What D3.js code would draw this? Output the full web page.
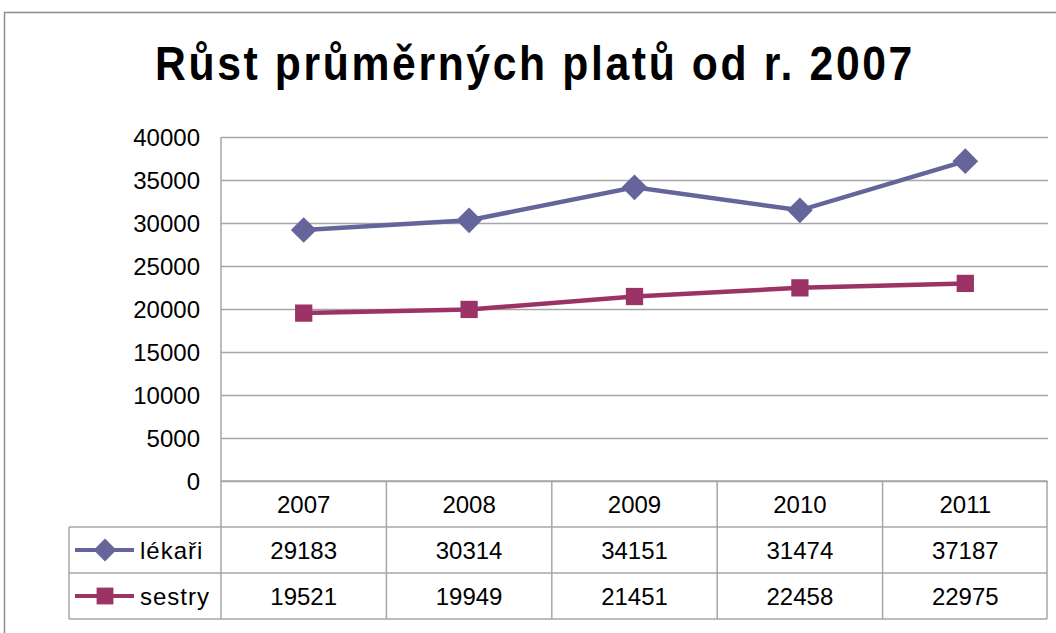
<!DOCTYPE html>
<html>
<head>
<meta charset="utf-8">
<script src="https://cdn.jsdelivr.net/npm/d3@7"></script>
<style>
  body { margin: 0; background: #fff; }
  svg { display: block; }
  text { font-family: "Liberation Sans", Arial, sans-serif; fill: #000; }
</style>
</head>
<body>
<div id="chart"></div>
<script>
// chart data
var years = ["2007", "2008", "2009", "2010", "2011"];
var lekari = [29183, 30314, 34151, 31474, 37187];
var sestry = [19521, 19949, 21451, 22458, 22975];
var seriesNames = ["lékaři", "sestry"];
var yTicks = [0, 5000, 10000, 15000, 20000, 25000, 30000, 35000, 40000];

var svgWidth = 1056;
var svgHeight = 633;

// plot area edges
var plot = { left: 221, right: 1048, top: 137, bottom: 481 };
var rowH = 46;

var svg = d3.select("#chart")
    .append("svg")
    .attr("width", svgWidth)
    .attr("height", svgHeight);

// outer chart border
svg.append("path")
    .attr("d", "M4.5,633 V12.5 H1056")
    .attr("fill", "none")
    .attr("stroke", "#8c8c8c")
    .attr("stroke-width", 1.5);

// title (squeezed to the narrow look of the original)
svg.append("text")
    .attr("x", 155)
    .attr("y", 80)
    .attr("textLength", 760)
    .attr("lengthAdjust", "spacingAndGlyphs")
    .style("font-weight", "bold")
    .style("font-size", "49px")
    .style("letter-spacing", "3px")
    .text("Růst průměrných platů od r. 2007");

var xScale = d3.scaleBand()
    .domain(years)
    .range([plot.left, plot.right]);

var yScale = d3.scaleLinear()
    .domain([0, 40000])
    .range([plot.bottom, plot.top]);

// gridlines
var grid = svg.append("g")
    .attr("transform", `translate(${plot.left}, 0)`)
    .call(d3.axisLeft(yScale).tickValues(yTicks).tickSize(-(plot.right - plot.left)).tickFormat(""));
grid.select(".domain").remove();
grid.selectAll("line").attr("stroke", "#a6a6a6").attr("stroke-width", 1.3);

// y labels
var yAxis = svg.append("g")
    .attr("transform", `translate(${plot.left - 21}, 0)`)
    .call(d3.axisLeft(yScale).tickValues(yTicks).tickSize(0).tickPadding(0).tickFormat(d3.format("d")));
yAxis.select(".domain").remove();
yAxis.selectAll("text")
    .style("font-size", "24px")
    .attr("dy", "0.36em");

// table
var tableBottom = plot.bottom + rowH * 3;
var table = svg.append("g");
var tableStroke = "#a6a6a6";

// vertical line from the plot top down through the table
table.append("line")
    .attr("x1", plot.left).attr("x2", plot.left)
    .attr("y1", plot.top).attr("y2", tableBottom)
    .attr("stroke", tableStroke).attr("stroke-width", 1.5);

// column separators
table.selectAll(".sep")
    .data(years.slice(1).concat(["end"]))
    .enter()
    .append("line")
    .attr("x1", (d, i) => i < years.length - 1 ? xScale(d) : plot.right - 1)
    .attr("x2", (d, i) => i < years.length - 1 ? xScale(d) : plot.right - 1)
    .attr("y1", plot.bottom)
    .attr("y2", tableBottom)
    .attr("stroke", tableStroke).attr("stroke-width", 1.5);

// horizontal lines
var hLines = [
    { y: plot.bottom, x1: plot.left },
    { y: plot.bottom + rowH, x1: 69 },
    { y: plot.bottom + rowH * 2, x1: 69 },
    { y: tableBottom, x1: 69 }
];
table.selectAll(".hl")
    .data(hLines)
    .enter()
    .append("line")
    .attr("x1", d => d.x1).attr("x2", plot.right - 1)
    .attr("y1", d => d.y).attr("y2", d => d.y)
    .attr("stroke", tableStroke).attr("stroke-width", 1.5);

table.append("line")
    .attr("x1", 69).attr("x2", 69)
    .attr("y1", plot.bottom + rowH).attr("y2", tableBottom)
    .attr("stroke", tableStroke).attr("stroke-width", 1.5);

// header years
table.selectAll(".yr")
    .data(years)
    .enter()
    .append("text")
    .attr("x", d => xScale(d) + xScale.bandwidth() / 2)
    .attr("y", plot.bottom + rowH / 2)
    .attr("dy", "0.36em")
    .attr("text-anchor", "middle")
    .style("font-size", "24px")
    .text(d => d);

var series = [
    { name: seriesNames[0], values: lekari, color: "#65659b", shape: d3.symbolDiamond2 },
    { name: seriesNames[1], values: sestry, color: "#9b3366", shape: d3.symbolSquare2 }
];

series.forEach(function(s, si) {
    var rowY = plot.bottom + rowH * (si + 1) + rowH / 2;

    // values in the table
    table.selectAll(".v" + si)
        .data(s.values)
        .enter()
        .append("text")
        .attr("x", (d, i) => xScale(years[i]) + xScale.bandwidth() / 2)
        .attr("y", rowY)
        .attr("dy", "0.36em")
        .attr("text-anchor", "middle")
        .style("font-size", "24px")
        .text(d => d);

    // legend key
    table.append("line")
        .attr("x1", 75).attr("x2", 134)
        .attr("y1", rowY).attr("y2", rowY)
        .attr("stroke", s.color).attr("stroke-width", 4);
    table.append("path")
        .attr("d", d3.symbol().type(s.shape).size(si == 0 ? 330 : 360)())
        .attr("transform", `translate(105, ${rowY})`)
        .attr("fill", s.color);
    table.append("text")
        .attr("x", 140)
        .attr("y", rowY)
        .attr("dy", "0.36em")
        .style("font-size", "24px")
        .style("letter-spacing", "1px")
        .text(s.name);

    // line and markers
    var line = d3.line()
        .x((d, i) => xScale(years[i]) + xScale.bandwidth() / 2)
        .y(d => yScale(d));

    svg.append("path")
        .datum(s.values)
        .attr("d", line)
        .attr("fill", "none")
        .attr("stroke", s.color)
        .attr("stroke-width", 4.5);

    svg.selectAll(".m" + si)
        .data(s.values)
        .enter()
        .append("path")
        .attr("d", d3.symbol().type(s.shape).size(si == 0 ? 420 : 380)())
        .attr("transform", (d, i) => `translate(${xScale(years[i]) + xScale.bandwidth() / 2}, ${yScale(d)})`)
        .attr("fill", s.color);
});
</script>
</body>
</html>
